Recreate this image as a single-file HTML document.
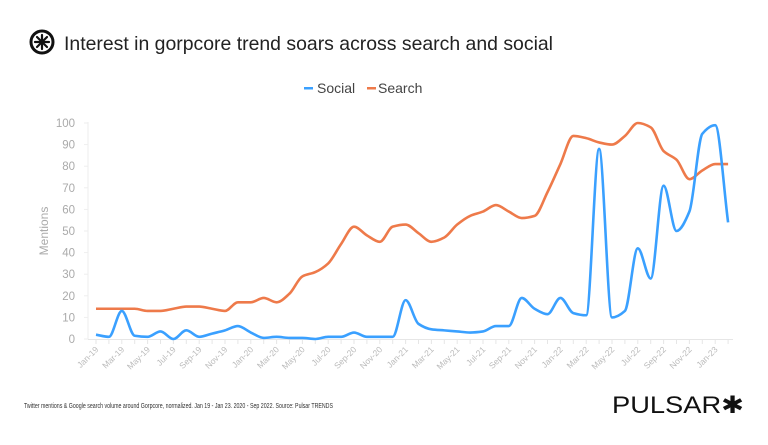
<!DOCTYPE html>
<html><head><meta charset="utf-8"><style>
body{margin:0;width:768px;height:440px;background:#fff;overflow:hidden;font-family:"Liberation Sans",sans-serif;}
</style></head><body>
<svg id="s" width="768" height="440" xmlns="http://www.w3.org/2000/svg" font-family="Liberation Sans, sans-serif">
<circle cx="42" cy="42" r="11" fill="none" stroke="#111" stroke-width="3"/>
<g stroke="#111" stroke-width="2.2" stroke-linecap="round">
<line x1="42" y1="35" x2="42" y2="49"/><line x1="35" y1="42" x2="49" y2="42"/>
<line x1="37" y1="37" x2="47" y2="47"/><line x1="47" y1="37" x2="37" y2="47"/></g>
<text x="64" y="50" font-size="19.5" fill="#222" textLength="489" lengthAdjust="spacingAndGlyphs">Interest in gorpcore trend soars across search and social</text>
<rect x="304" y="87" width="9" height="2.5" fill="#3aa0ff"/>
<text x="317" y="93" font-size="14" fill="#444">Social</text>
<rect x="367" y="87" width="9" height="2.5" fill="#ee7a4a"/>
<text x="378" y="93" font-size="14" fill="#444">Search</text>
<g id="grid"></g>
<text transform="translate(48,231) rotate(-90)" text-anchor="middle" font-size="12" fill="#aaa">Mentions</text>
<path id="search" fill="none" stroke="#ee7a4a" stroke-width="2.6" stroke-linejoin="round"/>
<path id="social" fill="none" stroke="#3aa0ff" stroke-width="2.6" stroke-linejoin="round"/>
<text x="24" y="408" font-size="7" fill="#333" textLength="309" lengthAdjust="spacingAndGlyphs">Twitter mentions &amp; Google search volume around Gorpcore, normalized. Jan 19 - Jan 23. 2020 - Sep 2022. Source: Pulsar TRENDS</text>
<text x="612" y="413" font-size="24" fill="#111" textLength="132" lengthAdjust="spacingAndGlyphs">PULSAR✱</text>
</svg>
<script>
var x0=96,dx=12.9,y0=339,k=2.16;
function X(i){return x0+dx*i}function Y(v){return y0-k*v}
var g=document.getElementById('grid'),h='';
h+='<line x1="88" y1="122" x2="88" y2="339" stroke="#eee"/>';
h+='<line x1="88" y1="339.5" x2="733" y2="339.5" stroke="#e6e6e6"/>';
for(var v=0;v<=100;v+=10)h+='<text x="75" y="'+(Y(v)+4)+'" text-anchor="end" font-size="11.5" fill="#aaa">'+v+'</text><line x1="84" x2="88" y1="'+Y(v)+'" y2="'+Y(v)+'" stroke="#eee"/>';
var m=['Jan','Mar','May','Jul','Sep','Nov'];
for(var i=0;i<=49;i++){h+='<line x1="'+X(i)+'" x2="'+X(i)+'" y1="339" y2="344" stroke="#e6e6e6"/>';
if(i%2==0){var lab=m[(i%12)/2]+'-'+(19+Math.floor(i/12));h+='<text transform="translate('+(X(i)+3)+',350) rotate(-45)" text-anchor="end" font-size="8.5" fill="#bbb">'+lab+'</text>';}}
g.innerHTML=h;
var so=[2,1,13,1.5,1,3.5,0,4,1,2.5,4,6,3,0.5,1,0.5,0.5,0,1,1,3,1,1,1,18,7,4.5,4,3.5,3,3.5,6,6,19,14,11.5,19,12,11,88,10,13,42,28,71,50,59,95,99,54];
var se=[14,14,14,14,13,13,14,15,15,14,13,17,17,19,17,21,29,31,35,44,52,48,45,52,53,49,45,47,53,57,59,62,59,56,57,68,81,94,93,91,90,94,100,98,87,83,74,78,81,81];
function path(d){var n=d.length,p=d.map(function(v,i){return[X(i),Y(v)]});
var s=[],t=[];for(var i=0;i<n-1;i++)s.push((p[i+1][1]-p[i][1])/dx);
for(var i=0;i<n;i++){if(i==0)t.push(s[0]);else if(i==n-1)t.push(s[n-2]);else{var a=s[i-1],b=s[i];if(a*b<=0)t.push(0);else{var hm=2/(1/a+1/b);t.push(Math.sign(hm)*Math.min(Math.abs(hm),3*Math.min(Math.abs(a),Math.abs(b))));}}}
var r='M'+p[0][0]+','+p[0][1];
for(var i=0;i<n-1;i++){var h3=dx/3;r+=' C'+(p[i][0]+h3)+','+(p[i][1]+t[i]*h3)+' '+(p[i+1][0]-h3)+','+(p[i+1][1]-t[i+1]*h3)+' '+p[i+1][0]+','+p[i+1][1];}
return r}
document.getElementById('social').setAttribute('d',path(so));
document.getElementById('search').setAttribute('d',path(se));
</script>
</body></html>
